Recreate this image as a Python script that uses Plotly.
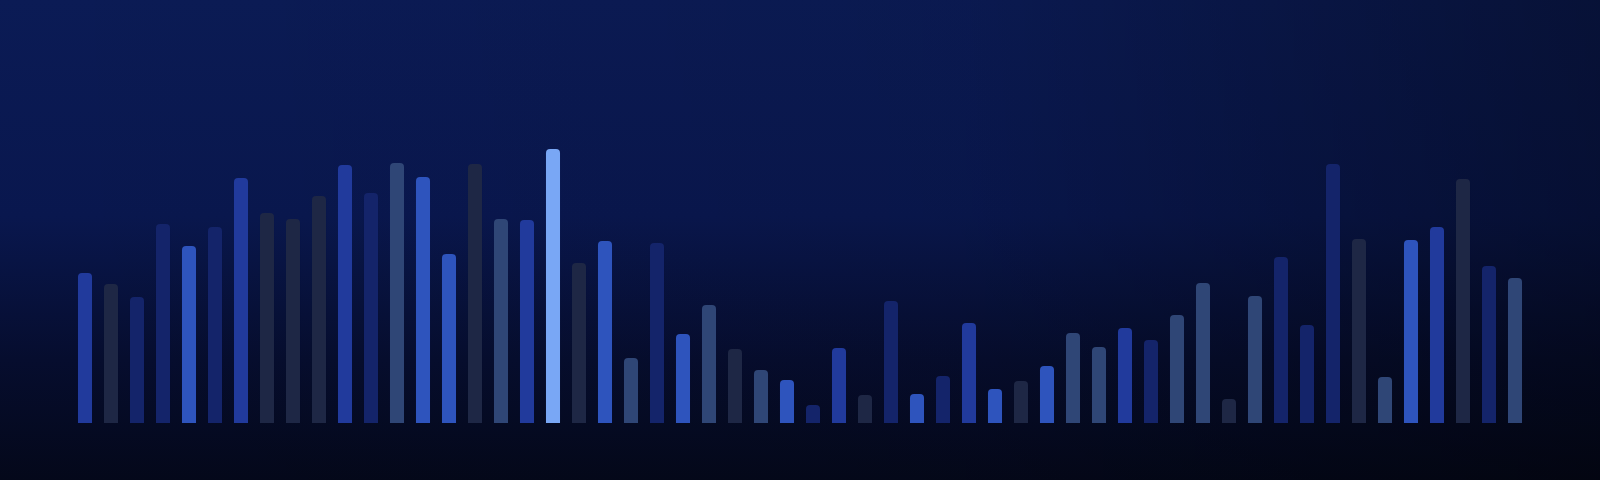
import base64

import plotly.graph_objects as go

# 56 根柱子，高度按截图估读
bar_index = list(range(1, 57))
bar_values = [
    150, 139, 126, 199, 177, 196, 245, 210, 204, 227,
    258, 230, 260, 246, 169, 259, 204, 203, 274, 160,
    182, 65, 180, 89, 118, 74, 53, 43, 18, 75,
    28, 122, 29, 47, 100, 34, 42, 57, 90, 76,
    95, 83, 108, 140, 24, 127, 166, 98, 259, 184,
    46, 183, 196, 244, 157, 145,
]
bar_tones = [
    "royal", "gray", "navy", "navy", "bright", "navy", "royal", "gray", "gray", "gray",
    "royal", "navy", "slate", "bright", "bright", "gray", "slate", "royal", "light", "gray",
    "bright", "slate", "navy", "bright", "slate", "gray", "slate", "bright", "navy", "royal",
    "gray", "navy", "bright", "navy", "royal", "bright", "gray", "bright", "slate", "slate",
    "royal", "navy", "slate", "slate", "gray", "slate", "navy", "navy", "navy", "gray",
    "slate", "bright", "royal", "gray", "navy", "slate",
]

TONES = {
    "bright": "#2E54BD",
    "royal": "#213A9C",
    "navy": "#14246A",
    "slate": "#2F4676",
    "gray": "#1E2745",
    "light": "#79A7F5",
}

W, H = 1600, 480


def _background_svg() -> str:
    """背景渐变（SVG data URI）"""
    svg = (
        "<svg xmlns='http://www.w3.org/2000/svg' width='1600' height='480' "
        "preserveAspectRatio='none'>"
        "<defs>"
        "<linearGradient id='v' x1='0' y1='0' x2='0' y2='1'>"
        "<stop offset='0' stop-color='#0B1B55'/>"
        "<stop offset='0.45' stop-color='#09174E'/>"
        "<stop offset='0.75' stop-color='#060D2E'/>"
        "<stop offset='1' stop-color='#04081A'/>"
        "</linearGradient>"
        "<linearGradient id='h' x1='0' y1='0' x2='1' y2='0'>"
        "<stop offset='0' stop-color='#000' stop-opacity='0'/>"
        "<stop offset='0.6' stop-color='#000' stop-opacity='0.06'/>"
        "<stop offset='1' stop-color='#000' stop-opacity='0.35'/>"
        "</linearGradient>"
        "</defs>"
        "<rect width='1600' height='480' fill='url(#v)'/>"
        "<rect width='1600' height='480' fill='url(#h)'/>"
        "</svg>"
    )
    return "data:image/svg+xml;base64," + base64.b64encode(svg.encode()).decode()


fig = go.Figure(go.Bar(
    x=bar_index,
    y=bar_values,
    marker=dict(
        color=[TONES[t] for t in bar_tones],
        line=dict(width=0),
        cornerradius=4,
    ),
    hoverinfo="skip",
))

fig.update_layout(
    width=W,
    height=H,
    margin=dict(l=0, r=0, t=0, b=0),
    paper_bgcolor="#060C2A",
    plot_bgcolor="rgba(0,0,0,0)",
    bargap=0.46,
    showlegend=False,
    images=[dict(
        source=_background_svg(),
        xref="paper", yref="paper",
        x=0, y=1, sizex=1, sizey=1,
        xanchor="left", yanchor="top",
        sizing="stretch", layer="below",
    )],
    xaxis=dict(
        domain=[72 / W, 1528 / W],
        range=[0.5, 56.5],
        visible=False,
    ),
    yaxis=dict(
        domain=[57 / H, 1],
        range=[0, 423],
        visible=False,
    ),
)

fig.write_html(
    "out.html",
    config=dict(displayModeBar=False),
    post_script="document.body.style.margin='0';",
)
